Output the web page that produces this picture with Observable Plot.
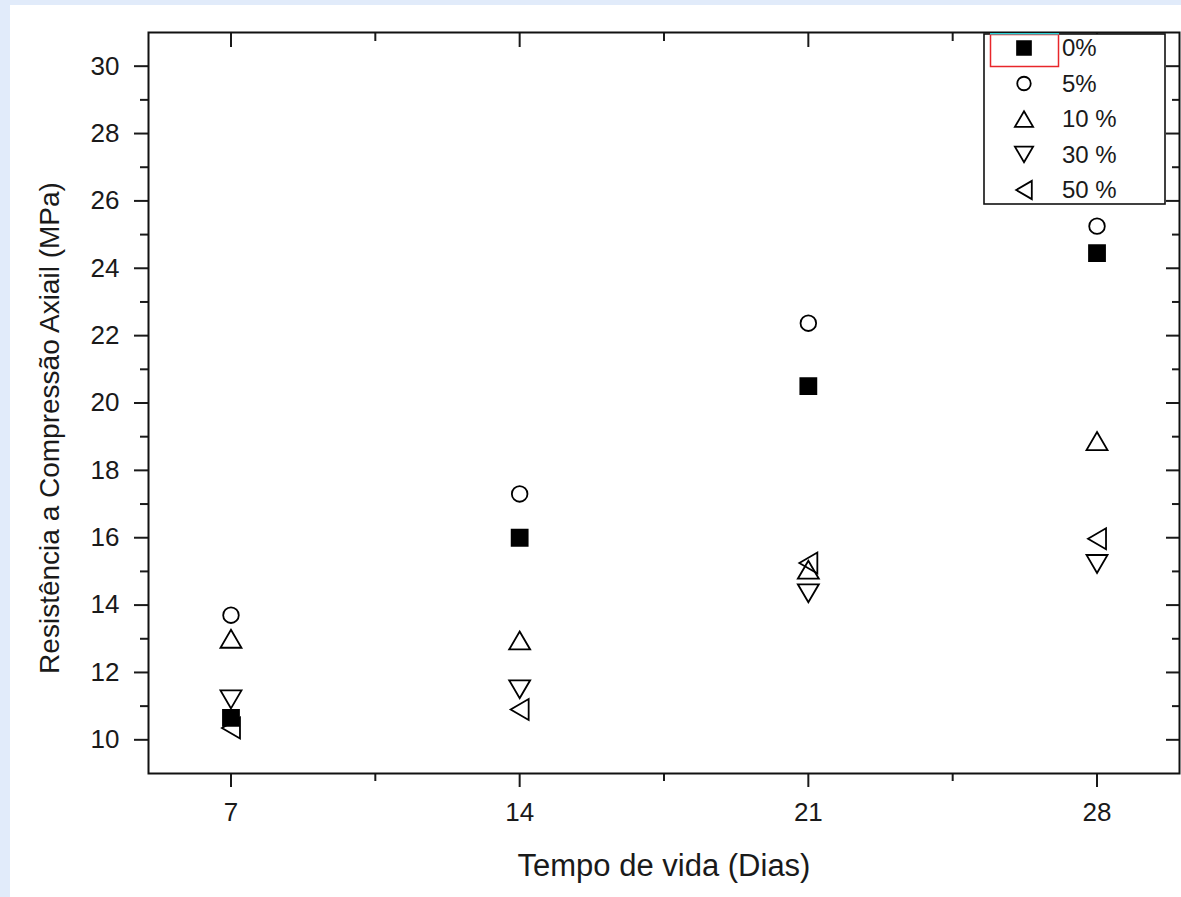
<!DOCTYPE html>
<html><head><meta charset="utf-8">
<script src="https://cdn.jsdelivr.net/npm/d3@7"></script>
<script src="https://cdn.jsdelivr.net/npm/@observablehq/plot@0.6"></script>
<style>
html,body{margin:0;padding:0;background:#e1ebfa;width:1181px;height:897px;overflow:hidden}
#panel{position:absolute;left:10px;top:5px;width:1171px;height:892px;background:#fff}
#legend{position:absolute;left:973px;top:28px}
</style></head><body><div id="panel"></div>
<script>
// ---- data ----
const days = [7, 14, 21, 28];
const seriesLabels = ["0%", "5%", "10 %", "30 %", "50 %"];
const v0  = [10.65, 16.0, 20.5, 24.45];
const v5  = [13.7, 17.3, 22.37, 25.25];
const v10 = [13.0, 12.95, 15.05, 18.87];
const v30 = [11.2, 11.5, 14.35, 15.22];
const v50 = [10.35, 10.9, 15.25, 15.97];
const xTicks = [7, 14, 21, 28];
const xMinor = [10.5, 17.5, 24.5];
const yMajor = [10, 12, 14, 16, 18, 20, 22, 24, 26, 28, 30];
const yMinor = [11, 13, 15, 17, 19, 21, 23, 25, 27, 29];
const xLabel = "Tempo de vida (Dias)";
const yLabel = "Resistência a Compressão Axiail (MPa)";

// ---- symbols ----
const R = 9;
const sc = size => Math.sqrt(size / Math.PI) / R;
const symSquare = {draw(c, s) {const h = 8 * sc(s); c.moveTo(-h,-h); c.lineTo(h,-h); c.lineTo(h,h); c.lineTo(-h,h); c.closePath();}};
const symCircle = {draw(c, s) {const r = 7.8 * sc(s); c.moveTo(r,0); c.arc(0,0,r,0,2*Math.PI);}};
const symUp = {draw(c, s) {const k = sc(s), w = 10.5*k, h = 9*k; c.moveTo(0,-h); c.lineTo(w,h); c.lineTo(-w,h); c.closePath();}};
const symDown = {draw(c, s) {const k = sc(s), w = 10.5*k, h = 9*k; c.moveTo(0,h); c.lineTo(w,-h); c.lineTo(-w,-h); c.closePath();}};
const symLeft = {draw(c, s) {const k = sc(s), w = 10.5*k, h = 9*k; c.moveTo(-h,0); c.lineTo(h,-w); c.lineTo(h,w); c.closePath();}};

const seriesDefs = [
  {label: seriesLabels[0], vals: v0, sym: symSquare, fill: "black"},
  {label: seriesLabels[1], vals: v5, sym: symCircle, fill: "none"},
  {label: seriesLabels[2], vals: v10, sym: symUp, fill: "none"},
  {label: seriesLabels[3], vals: v30, sym: symDown, fill: "none"},
  {label: seriesLabels[4], vals: v50, sym: symLeft, fill: "none"}
];
const rows = vals => days.map((d, i) => ({day: d, v: vals[i]}));

const AX = {label: null, strokeWidth: 2};
const chart = Plot.plot({
  width: 1171, height: 892,
  marginLeft: 138, marginRight: 2, marginTop: 27, marginBottom: 124,
  x: {domain: [5, 30]},
  y: {domain: [9, 31]},
  style: {fontFamily: "'Liberation Sans', Arial, sans-serif", color: "#1a1a1a", background: "transparent"},
  marks: [
    Plot.axisY({...AX, ticks: yMajor, tickSize: 14, tickPadding: 15, fontSize: 26}),
    Plot.axisY({...AX, ticks: yMinor, tickSize: 8, text: null}),
    Plot.axisY({...AX, anchor: "right", ticks: yMajor, tickSize: -14, text: null}),
    Plot.axisY({...AX, anchor: "right", ticks: yMinor, tickSize: -8, text: null}),
    Plot.axisX({...AX, ticks: xTicks, tickSize: 14, tickPadding: 15, fontSize: 26}),
    Plot.axisX({...AX, ticks: xMinor, tickSize: 8, text: null}),
    Plot.axisX({...AX, anchor: "top", ticks: xTicks, tickSize: -14, text: null}),
    Plot.axisX({...AX, anchor: "top", ticks: xMinor, tickSize: -8, text: null}),
    Plot.frame({stroke: "#111", strokeWidth: 2}),
    ...seriesDefs.map(s => Plot.dot(rows(s.vals), {x: "day", y: "v", r: R, symbol: s.sym, fill: s.fill, stroke: "black", strokeWidth: 1.8})),
    Plot.text([xLabel], {text: d => d, frameAnchor: "bottom", dy: 93, fontSize: 31, lineAnchor: "middle", fill: "#1a1a1a"}),
    Plot.text([yLabel], {text: d => d, frameAnchor: "left", dx: -98, dy: 25, rotate: -90, fontSize: 28, textAnchor: "middle", lineAnchor: "middle", fill: "#1a1a1a"})
  ]
});
const panel = document.getElementById("panel");
panel.appendChild(chart);

// ---- legend (overlay) ----
const lw = 183, lh = 172;
const lg = d3.select(panel).append("svg").attr("id", "legend").attr("width", lw).attr("height", lh)
  .style("font-family", "'Liberation Sans', Arial, sans-serif");
lg.append("rect").attr("x", 1).attr("y", 1).attr("width", lw - 2).attr("height", lh - 2).attr("fill", "white").attr("stroke", "#111").attr("stroke-width", 1.6);
lg.append("rect").attr("x", 7.5).attr("y", 1.5).attr("width", 68).attr("height", 32).attr("fill", "none").attr("stroke", "#e8262b").attr("stroke-width", 1.5);
lg.append("line").attr("x1", 7).attr("x2", 76).attr("y1", 0.8).attr("y2", 0.8).attr("stroke", "#2ad4d8").attr("stroke-width", 1.6);
seriesDefs.forEach((s, i) => {
  const cy = 15 + i * 35.5;
  lg.append("path").attr("transform", `translate(41,${cy})`)
    .attr("d", d3.symbol().type(s.sym).size(Math.PI * 7.8 * 7.8)())
    .attr("fill", s.fill).attr("stroke", "black").attr("stroke-width", 1.8);
  lg.append("text").attr("x", 79).attr("y", cy).attr("dy", "0.35em").attr("font-size", 24).attr("fill", "#1a1a1a").text(s.label);
});
</script></body></html>
